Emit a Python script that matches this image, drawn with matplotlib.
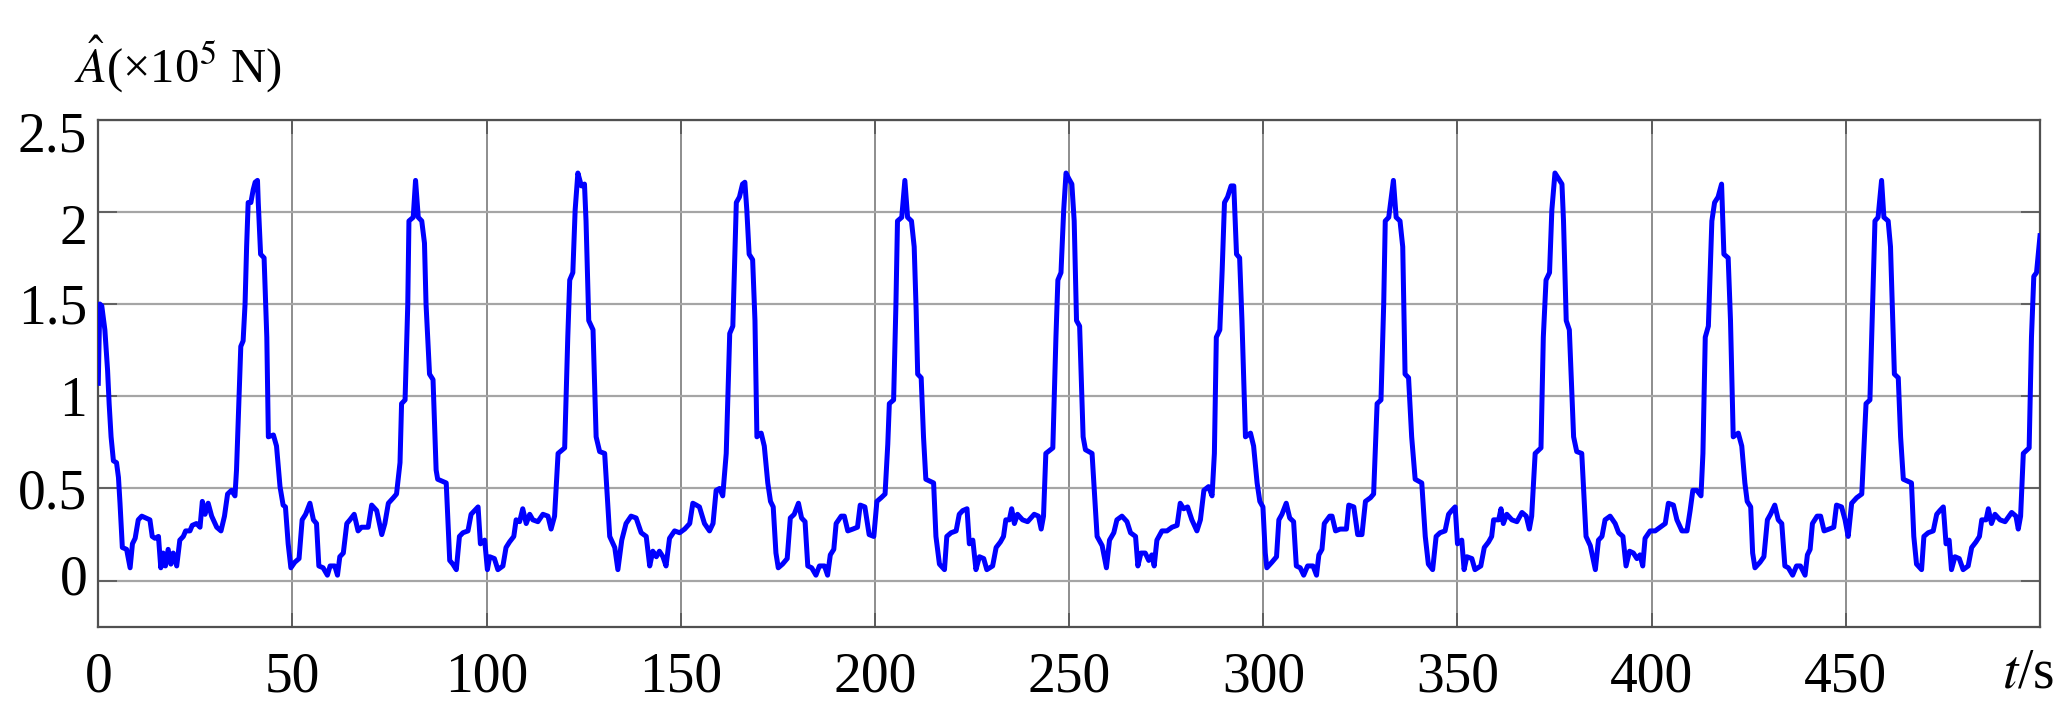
import numpy as np
import matplotlib
matplotlib.use("Agg")
import matplotlib.pyplot as plt
from matplotlib.transforms import ScaledTranslation

# ---- data (time in s, A in 1e5 N) ----
t_seg1 = [0, 0.4, 0.9, 1.7, 2.4, 2.8, 3.3, 3.9, 4.7, 5.2,
          5.6, 6.2, 7.3, 8.2, 8.8, 9.5, 10.3, 11.2, 13.3, 13.9,
          14.6, 15.5, 16.1, 16.7, 17.3, 18.0, 18.7, 19.3, 20.2, 21.0,
          21.9, 22.5, 23.6, 24.2, 25.3, 26.2, 26.8, 27.5, 28.3, 29.2,
          30.5, 31.6, 32.5, 33.3, 34.3, 35.2, 35.6, 36.2, 36.7, 37.3,
          37.8, 38.2, 38.6, 39.3, 39.9, 40.4, 41.0, 41.2, 41.8, 42.7,
          43.4, 43.8, 45.1, 45.9, 46.8, 47.6, 48.2, 48.9, 49.6, 50.6,
          51.7, 52.5, 53.4, 54.5, 55.4, 56.2, 56.8, 57.9, 59.0, 59.7,
          60.9, 61.6, 62.2, 63.1, 64.0, 64.8, 65.9, 66.9, 67.8, 69.5,
          70.4, 71.7, 73.0, 73.8, 74.7, 76.0, 76.8, 77.7, 78.1, 79.0,
          79.7, 80.0, 81.1, 81.7, 82.4, 83.3]
a_seg1 = [1.07, 1.50, 1.49, 1.36, 1.14, 0.96, 0.78, 0.65, 0.64, 0.56,
          0.42, 0.18, 0.17, 0.07, 0.20, 0.23, 0.33, 0.35, 0.33, 0.24,
          0.23, 0.24, 0.07, 0.15, 0.08, 0.17, 0.09, 0.15, 0.08, 0.22,
          0.24, 0.27, 0.27, 0.30, 0.31, 0.29, 0.43, 0.36, 0.42, 0.35,
          0.29, 0.27, 0.35, 0.47, 0.49, 0.46, 0.60, 0.96, 1.27, 1.30,
          1.50, 1.81, 2.05, 2.05, 2.12, 2.16, 2.17, 2.05, 1.77, 1.75,
          1.32, 0.78, 0.79, 0.73, 0.51, 0.41, 0.40, 0.20, 0.07, 0.10,
          0.12, 0.33, 0.36, 0.42, 0.33, 0.31, 0.08, 0.07, 0.03, 0.08,
          0.08, 0.03, 0.13, 0.15, 0.31, 0.33, 0.36, 0.27, 0.29, 0.29,
          0.41, 0.38, 0.25, 0.31, 0.42, 0.45, 0.47, 0.64, 0.96, 0.98,
          1.50, 1.95, 1.97, 2.17, 1.97, 1.95]

t_seg2 = [84.0, 84.4, 85.3, 86.2, 87.0, 87.4, 89.6, 90.5, 91.3, 92.2,
          93.0, 93.9, 95.2, 96.0, 96.9, 97.8, 98.4, 99.5, 100.2, 100.8,
          102.0, 102.9, 104.2, 105.0, 105.9, 107.0, 107.6, 108.5, 109.3, 110.2,
          111.1, 111.9, 113.2, 114.5, 115.8, 116.6, 117.5, 118.4, 120.1, 120.9,
          121.4, 122.2, 122.8, 123.5, 124.4, 125.2, 125.6, 126.3, 127.4, 128.2,
          129.1, 130.4, 131.7, 133.0, 133.8, 134.8, 135.9, 137.2, 138.5, 139.8,
          141.1, 142.0, 142.8, 143.7, 144.5, 145.4, 146.2, 147.1, 148.4, 149.7,
          151.0, 152.3, 153.1, 154.0, 154.8, 156.1, 157.4, 158.3, 159.1, 160.0,
          160.8, 161.7, 162.6, 163.4, 164.3, 165.1]
a_seg2 = [1.83, 1.50, 1.12, 1.09, 0.60, 0.55, 0.53, 0.11, 0.09, 0.06,
          0.24, 0.26, 0.27, 0.36, 0.38, 0.40, 0.20, 0.22, 0.06, 0.13,
          0.12, 0.06, 0.08, 0.18, 0.21, 0.24, 0.33, 0.32, 0.39, 0.31,
          0.36, 0.33, 0.32, 0.36, 0.35, 0.28, 0.35, 0.69, 0.72, 1.32,
          1.63, 1.67, 2.01, 2.21, 2.14, 2.15, 1.95, 1.41, 1.36, 0.78,
          0.70, 0.69, 0.24, 0.18, 0.06, 0.22, 0.31, 0.35, 0.34, 0.26,
          0.24, 0.08, 0.16, 0.13, 0.16, 0.13, 0.08, 0.23, 0.27, 0.26,
          0.28, 0.31, 0.42, 0.41, 0.40, 0.31, 0.27, 0.31, 0.49, 0.50,
          0.46, 0.69, 1.34, 1.38, 2.05, 2.08]

t_seg3 = [165.9, 166.5, 167.0, 167.6, 168.5, 169.1, 169.6, 170.7, 171.5, 172.4,
          173.1, 173.8, 174.5, 175.1, 176.2, 177.4, 178.2, 179.2, 180.3, 181.1,
          182.0, 182.7, 183.7, 184.8, 185.7, 187.0, 187.8, 188.5, 189.4, 190.0,
          191.3, 192.1, 193.0, 194.3, 195.5, 196.2, 197.4, 198.5, 199.7, 200.5,
          201.6, 202.6, 203.3, 203.7, 204.8, 205.4, 205.8, 206.9, 207.7, 208.4,
          209.4, 210.1, 210.6, 211.0, 211.9, 212.5, 213.1, 215.1, 215.7, 216.6,
          217.9, 218.5, 219.6, 220.9, 221.7, 222.6, 223.7, 224.3, 225.2, 226.0,
          226.9, 228.0, 228.8, 230.3, 231.2, 232.3, 233.1, 233.7, 234.6, 235.2,
          235.9, 236.7, 238.0, 239.3, 241.0, 242.1, 242.8, 243.4, 244.0, 245.8,
          246.6, 247.1, 247.9, 248.6, 249.2]
a_seg3 = [2.15, 2.16, 2.01, 1.77, 1.74, 1.41, 0.78, 0.80, 0.73, 0.53,
          0.43, 0.40, 0.15, 0.07, 0.09, 0.12, 0.34, 0.36, 0.42, 0.34,
          0.32, 0.08, 0.07, 0.03, 0.08, 0.08, 0.03, 0.14, 0.17, 0.31,
          0.35, 0.35, 0.27, 0.28, 0.29, 0.41, 0.40, 0.25, 0.24, 0.43,
          0.45, 0.47, 0.74, 0.96, 0.98, 1.50, 1.95, 1.97, 2.17, 1.97,
          1.95, 1.81, 1.47, 1.12, 1.10, 0.78, 0.55, 0.53, 0.24, 0.09,
          0.06, 0.24, 0.26, 0.27, 0.36, 0.38, 0.39, 0.20, 0.22, 0.06,
          0.13, 0.12, 0.06, 0.08, 0.18, 0.21, 0.24, 0.33, 0.33, 0.39,
          0.31, 0.36, 0.33, 0.32, 0.36, 0.35, 0.28, 0.35, 0.69, 0.72,
          1.32, 1.63, 1.67, 2.01, 2.21]

t_seg4 = [249.9, 250.7, 251.3, 251.9, 252.7, 253.6, 254.2, 255.9, 257.2, 258.5,
          259.6, 260.4, 261.5, 262.3, 263.6, 264.9, 265.8, 267.1, 267.7, 268.5,
          269.6, 270.5, 271.3, 271.9, 272.6, 273.9, 275.2, 276.5, 277.8, 278.6,
          279.5, 280.5, 281.6, 282.9, 283.8, 284.7, 285.9, 286.8, 287.4, 287.9,
          288.8, 289.4, 290.0, 290.8, 291.7, 292.4, 293.1, 293.9, 294.5, 295.4,
          296.7, 297.5, 298.4, 299.1, 299.9, 300.5, 300.9, 302.2, 303.4, 304.0,
          304.8, 305.9, 306.8, 307.8, 308.5, 309.5, 310.4, 311.4, 312.8, 313.7,
          314.3, 315.1, 315.7, 317.1, 317.7, 318.6, 319.8, 321.4, 322.0, 323.3,
          324.3, 325.4, 326.3, 327.6, 328.4, 329.3, 330.3, 331.0, 331.4, 332.3]
a_seg4 = [2.18, 2.15, 1.95, 1.41, 1.38, 0.78, 0.71, 0.69, 0.24, 0.19,
          0.07, 0.22, 0.26, 0.33, 0.35, 0.32, 0.26, 0.24, 0.08, 0.15,
          0.15, 0.11, 0.14, 0.08, 0.22, 0.27, 0.27, 0.29, 0.30, 0.42,
          0.39, 0.40, 0.33, 0.27, 0.33, 0.49, 0.51, 0.46, 0.69, 1.32,
          1.36, 1.68, 2.05, 2.08, 2.14, 2.14, 1.77, 1.75, 1.41, 0.78,
          0.80, 0.73, 0.53, 0.43, 0.40, 0.15, 0.07, 0.10, 0.13, 0.33,
          0.36, 0.42, 0.34, 0.32, 0.08, 0.07, 0.03, 0.08, 0.08, 0.03,
          0.14, 0.17, 0.31, 0.35, 0.35, 0.27, 0.28, 0.28, 0.41, 0.40,
          0.25, 0.25, 0.43, 0.45, 0.47, 0.96, 0.98, 1.50, 1.95, 1.97]

t_seg5 = [333.5, 334.2, 335.2, 335.9, 336.5, 337.4, 338.2, 339.1, 340.8, 341.7,
          342.5, 343.6, 344.5, 345.5, 346.8, 347.7, 348.5, 349.4, 350.0, 351.1,
          351.7, 352.4, 353.7, 354.5, 356.0, 356.9, 358.0, 358.8, 359.3, 360.6,
          361.2, 361.8, 362.7, 364.0, 365.3, 366.6, 367.7, 368.5, 369.1, 370.0,
          371.5, 372.1, 372.8, 373.7, 374.3, 375.1, 376.0, 376.9, 377.3, 378.0,
          378.8, 379.9, 380.7, 382.0, 383.1, 384.2, 385.5, 386.3, 387.2, 388.0,
          389.3, 390.6, 391.5, 392.6, 393.4, 394.3, 395.3, 396.2, 397.0, 397.7,
          398.3, 399.6, 400.9, 402.2, 403.5, 404.3, 405.6, 406.5, 407.8, 409.1,
          409.9, 410.6, 411.6, 412.7, 413.2, 413.8, 414.6]
a_seg5 = [2.17, 1.97, 1.95, 1.81, 1.12, 1.10, 0.78, 0.55, 0.53, 0.24,
          0.09, 0.06, 0.24, 0.26, 0.27, 0.36, 0.38, 0.40, 0.20, 0.22,
          0.06, 0.13, 0.12, 0.06, 0.08, 0.18, 0.21, 0.24, 0.33, 0.33,
          0.39, 0.31, 0.36, 0.33, 0.32, 0.37, 0.35, 0.28, 0.35, 0.69,
          0.72, 1.32, 1.63, 1.67, 2.01, 2.21, 2.18, 2.15, 1.95, 1.41,
          1.36, 0.78, 0.70, 0.69, 0.24, 0.19, 0.06, 0.22, 0.24, 0.33,
          0.35, 0.31, 0.26, 0.24, 0.08, 0.16, 0.15, 0.12, 0.14, 0.08,
          0.23, 0.27, 0.27, 0.29, 0.31, 0.42, 0.41, 0.33, 0.27, 0.27,
          0.38, 0.49, 0.49, 0.46, 0.69, 1.32, 1.38]

t_seg6 = [415.5, 416.2, 417.1, 418.0, 418.6, 419.7, 420.3, 421.0, 422.3, 423.2,
          424.0, 424.6, 425.5, 426.0, 426.6, 427.9, 428.9, 429.8, 430.6, 431.7,
          432.6, 433.5, 434.3, 435.2, 436.3, 437.3, 438.3, 439.5, 440.1, 440.8,
          441.4, 442.6, 443.5, 444.4, 445.7, 446.9, 447.6, 448.9, 449.8, 450.6,
          451.5, 452.8, 454.1, 454.7, 455.2, 456.2, 456.9, 457.5, 458.3, 459.2,
          459.8, 460.9, 461.5, 462.0, 462.5, 463.5, 464.1, 464.8, 466.9, 467.5,
          468.2, 469.5, 470.1, 471.2, 472.5, 473.4, 474.2, 475.1, 475.8, 476.6,
          477.2, 478.1, 479.2, 480.2, 481.5, 482.4, 483.5, 484.4, 485.0, 486.1,
          486.7, 487.5, 488.4, 489.7, 491.0, 492.7, 493.8, 494.4, 495.0, 495.7,
          497.2, 497.8, 498.4, 499.1, 500.0]
a_seg6 = [1.95, 2.05, 2.08, 2.15, 1.77, 1.75, 1.41, 0.78, 0.80, 0.73,
          0.53, 0.43, 0.40, 0.15, 0.07, 0.10, 0.13, 0.33, 0.36, 0.41,
          0.33, 0.31, 0.08, 0.07, 0.03, 0.08, 0.08, 0.03, 0.14, 0.17,
          0.31, 0.35, 0.35, 0.27, 0.28, 0.29, 0.41, 0.40, 0.33, 0.24,
          0.42, 0.45, 0.47, 0.74, 0.96, 0.98, 1.50, 1.95, 1.97, 2.17,
          1.97, 1.95, 1.81, 1.47, 1.12, 1.10, 0.78, 0.55, 0.53, 0.24,
          0.09, 0.06, 0.24, 0.26, 0.27, 0.36, 0.38, 0.40, 0.20, 0.22,
          0.06, 0.13, 0.12, 0.06, 0.08, 0.18, 0.21, 0.24, 0.33, 0.33,
          0.39, 0.31, 0.36, 0.33, 0.32, 0.37, 0.35, 0.28, 0.35, 0.69,
          0.72, 1.32, 1.65, 1.67, 1.87]

x_ticks = [0, 50, 100, 150, 200, 250, 300, 350, 400, 450, 500]
x_ticklabels = ['0', '50', '100', '150', '200', '250', '300', '350', '400', '450', '']
y_ticks = [0, 0.5, 1, 1.5, 2, 2.5]
y_ticklabels = ['0', '0.5', '1', '1.5', '2', '2.5']

# ---- plotting ----
plt.rcParams['font.family'] = ['Liberation Serif', 'DejaVu Serif']
plt.rcParams['mathtext.fontset'] = 'stix'

t_all = np.concatenate([t_seg1, t_seg2, t_seg3, t_seg4, t_seg5, t_seg6])
a_all = np.concatenate([a_seg1, a_seg2, a_seg3, a_seg4, a_seg5, a_seg6])

fig = plt.figure(figsize=(20.6, 7.2), dpi=100)
ax = fig.add_axes([0.0477, 0.1294, 0.9426, 0.7046])

ax.plot(t_all, a_all, color='#0000ff', lw=3.6, solid_joinstyle='round', zorder=3)

ax.set_xlim(0, 500)
ax.set_ylim(-0.25, 2.5)
ax.set_xticks(x_ticks)
ax.set_xticklabels(x_ticklabels)
ax.set_yticks(y_ticks)
ax.set_yticklabels(y_ticklabels)

ax.grid(True, axis='x', color='#7a7a7a', lw=1.2, zorder=1)
ax.grid(True, axis='y', color='#a5a5a5', lw=1.6, zorder=1)

ax.tick_params(axis='x', direction='in', length=10, width=1.2, colors='#555555',
               labelcolor='black', labelsize=40, pad=18, top=True)
ax.tick_params(axis='y', direction='in', length=14, width=1.2, colors='#555555',
               labelcolor='black', labelsize=40, pad=8, right=True)
for s in ax.spines.values():
    s.set_color('#505050')
    s.set_linewidth(1.6)

# small vertical offsets of some y tick labels, as in the reference
label_shift_px = {'2.5': -12, '2': -12, '0': 6}
for lab in ax.get_yticklabels():
    dy = label_shift_px.get(lab.get_text(), 0)
    if dy:
        lab.set_transform(lab.get_transform() +
                          ScaledTranslation(0, dy / 100.0, fig.dpi_scale_trans))

fig.text(0.036, 0.911, r'$\hat{A}$(×10$^5$ N)', fontsize=35, ha='left', va='center')
fig.text(0.972, 0.064, r'$t$/s', fontsize=40, ha='left', va='center')

fig.savefig('out.png', dpi=100)
